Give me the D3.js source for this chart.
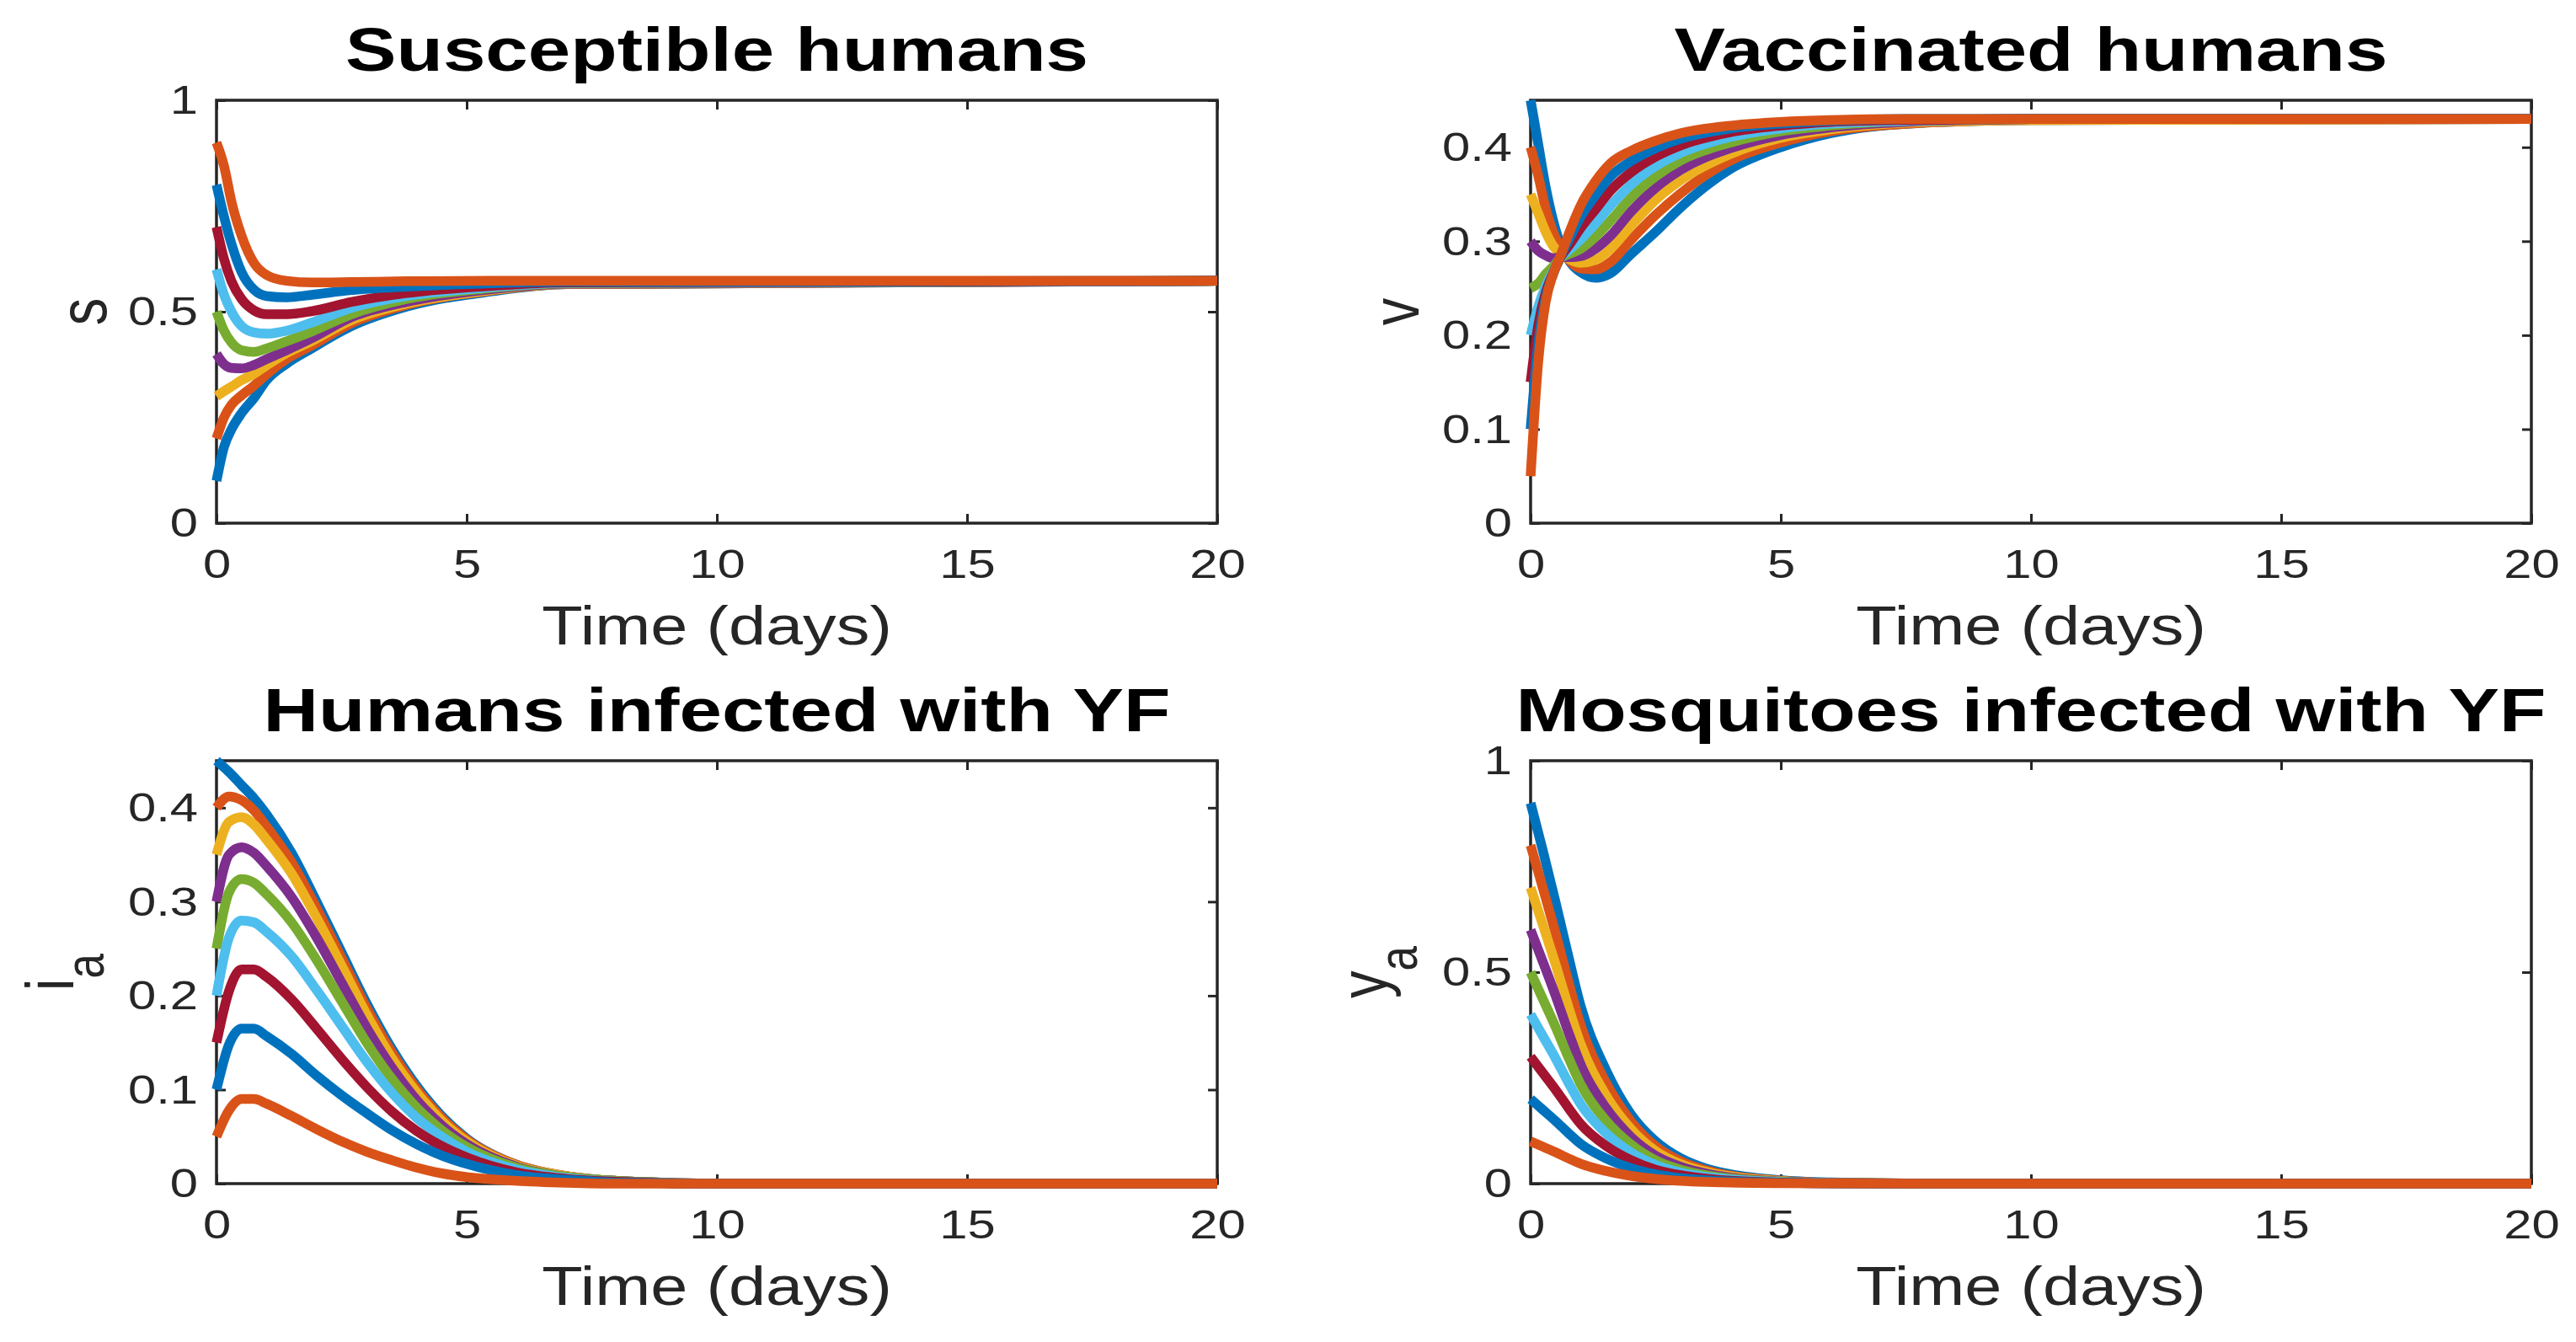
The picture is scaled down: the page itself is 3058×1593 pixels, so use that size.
<!DOCTYPE html>
<html>
<head>
<meta charset="utf-8">
<script src="https://cdn.jsdelivr.net/npm/d3@7"></script>
<style>
body { margin: 0; background: #fff; }
svg { display: block; font-family: "Liberation Sans", Arial, sans-serif; }
</style>
</head>
<body>
<svg id="chart" width="3058" height="1593"></svg>
<script>
// MATLAB default colour order, one colour per run (9 runs)
var lineColors = ["#0072BD", "#D95319", "#EDB120", "#7E2F8E", "#77AC30", "#4DBEEE", "#A2142F", "#0072BD", "#D95319"];

var xTicks = [0, 5, 10, 15, 20];
var yTicksS = [0, 0.5, 1];
var yTicksV = [0, 0.1, 0.2, 0.3, 0.4];
var yTicksI = [0, 0.1, 0.2, 0.3, 0.4];
var yTicksY = [0, 0.5, 1];

// Susceptible humans s(t)
var tS = [0, 0.15, 0.3, 0.5, 0.75, 1, 1.4, 1.9, 2.7, 3.8, 5.5, 7, 20];
var sVals = [
    [0.10, 0.18, 0.222, 0.26, 0.296, 0.338, 0.377, 0.413, 0.466, 0.512, 0.548, 0.565, 0.573],
    [0.20, 0.25, 0.28, 0.302, 0.325, 0.352, 0.388, 0.42, 0.473, 0.516, 0.55, 0.565, 0.573],
    [0.30, 0.312, 0.323, 0.338, 0.353, 0.373, 0.402, 0.43, 0.48, 0.519, 0.551, 0.566, 0.573],
    [0.40, 0.376, 0.367, 0.366, 0.374, 0.388, 0.409, 0.437, 0.487, 0.523, 0.553, 0.566, 0.573],
    [0.50, 0.455, 0.427, 0.409, 0.405, 0.413, 0.43, 0.453, 0.494, 0.53, 0.556, 0.567, 0.573],
    [0.60, 0.54, 0.50, 0.466, 0.451, 0.448, 0.455, 0.474, 0.509, 0.537, 0.558, 0.568, 0.573],
    [0.70, 0.625, 0.572, 0.53, 0.503, 0.494, 0.494, 0.501, 0.523, 0.544, 0.561, 0.569, 0.573],
    [0.80, 0.725, 0.66, 0.594, 0.552, 0.537, 0.534, 0.540, 0.551, 0.559, 0.567, 0.571, 0.573],
    [0.90, 0.845, 0.76, 0.68, 0.615, 0.587, 0.573, 0.569, 0.570, 0.572, 0.573, 0.573, 0.573]
];

// Vaccinated humans v(t)
var tV = [0, 0.15, 0.3, 0.45, 0.6, 0.8, 1.0, 1.3, 1.6, 2.0, 2.5, 3, 4, 5, 6, 7.5, 10, 20];
var vVals = [
    [0.45, 0.404, 0.358, 0.322, 0.296, 0.277, 0.267, 0.261, 0.266, 0.286, 0.31, 0.336, 0.377, 0.40, 0.415, 0.425, 0.429, 0.43],
    [0.40, 0.37, 0.335, 0.31, 0.292, 0.278, 0.271, 0.27, 0.278, 0.301, 0.328, 0.351, 0.386, 0.405, 0.417, 0.425, 0.429, 0.43],
    [0.35, 0.33, 0.31, 0.295, 0.287, 0.28, 0.277, 0.28, 0.292, 0.316, 0.344, 0.365, 0.393, 0.41, 0.419, 0.426, 0.429, 0.43],
    [0.30, 0.29, 0.285, 0.282, 0.283, 0.283, 0.284, 0.292, 0.306, 0.331, 0.357, 0.376, 0.399, 0.413, 0.421, 0.427, 0.43, 0.43],
    [0.25, 0.255, 0.265, 0.273, 0.282, 0.287, 0.292, 0.305, 0.322, 0.346, 0.369, 0.386, 0.405, 0.417, 0.423, 0.428, 0.43, 0.43],
    [0.20, 0.23, 0.252, 0.268, 0.282, 0.292, 0.302, 0.319, 0.338, 0.36, 0.38, 0.394, 0.411, 0.42, 0.425, 0.428, 0.43, 0.43],
    [0.15, 0.21, 0.245, 0.266, 0.283, 0.298, 0.314, 0.334, 0.354, 0.373, 0.39, 0.402, 0.416, 0.423, 0.427, 0.429, 0.43, 0.43],
    [0.10, 0.19, 0.24, 0.265, 0.284, 0.305, 0.326, 0.349, 0.369, 0.385, 0.399, 0.409, 0.42, 0.425, 0.428, 0.43, 0.43, 0.43],
    [0.05, 0.17, 0.235, 0.265, 0.285, 0.313, 0.338, 0.364, 0.383, 0.396, 0.407, 0.415, 0.423, 0.427, 0.429, 0.43, 0.43, 0.43]
];

// Humans infected with YF i_a(t)
var tI = [0, 0.25, 0.5, 0.75, 1, 1.5, 2, 2.5, 3, 3.5, 4, 4.5, 5, 6, 7, 8, 10, 20];
var iVals = [
    [0.45, 0.438, 0.424, 0.41, 0.393, 0.352, 0.30, 0.246, 0.192, 0.144, 0.104, 0.072, 0.048, 0.02, 0.008, 0.003, 0, 0],
    [0.40, 0.412, 0.408, 0.397, 0.38, 0.342, 0.293, 0.24, 0.187, 0.14, 0.101, 0.07, 0.047, 0.02, 0.008, 0.003, 0, 0],
    [0.35, 0.385, 0.39, 0.382, 0.366, 0.33, 0.283, 0.232, 0.18, 0.134, 0.097, 0.067, 0.045, 0.019, 0.008, 0.003, 0, 0],
    [0.30, 0.35, 0.358, 0.352, 0.338, 0.305, 0.262, 0.214, 0.166, 0.124, 0.089, 0.062, 0.042, 0.018, 0.007, 0.003, 0, 0],
    [0.25, 0.31, 0.324, 0.32, 0.308, 0.278, 0.238, 0.194, 0.15, 0.112, 0.081, 0.057, 0.039, 0.017, 0.007, 0.003, 0, 0],
    [0.20, 0.262, 0.28, 0.278, 0.268, 0.242, 0.206, 0.168, 0.13, 0.097, 0.07, 0.05, 0.034, 0.015, 0.006, 0.002, 0, 0],
    [0.15, 0.205, 0.228, 0.228, 0.22, 0.196, 0.165, 0.133, 0.103, 0.077, 0.056, 0.04, 0.028, 0.012, 0.005, 0.002, 0, 0],
    [0.10, 0.148, 0.165, 0.165, 0.157, 0.138, 0.115, 0.094, 0.075, 0.057, 0.042, 0.03, 0.021, 0.009, 0.004, 0.001, 0, 0],
    [0.05, 0.078, 0.09, 0.09, 0.085, 0.072, 0.058, 0.045, 0.034, 0.025, 0.017, 0.011, 0.007, 0.003, 0.001, 0, 0, 0]
];

// Mosquitoes infected with YF y_a(t)
var tY = [0, 0.25, 0.5, 0.75, 1, 1.5, 2, 2.5, 3, 3.5, 4, 5, 6, 8, 20];
var yVals = [
    [0.9, 0.785, 0.665, 0.54, 0.42, 0.27, 0.165, 0.1, 0.06, 0.036, 0.022, 0.008, 0.003, 0, 0],
    [0.8, 0.697, 0.592, 0.48, 0.375, 0.24, 0.148, 0.088, 0.053, 0.032, 0.019, 0.007, 0.002, 0, 0],
    [0.7, 0.61, 0.518, 0.42, 0.33, 0.21, 0.13, 0.077, 0.046, 0.028, 0.017, 0.006, 0.002, 0, 0],
    [0.6, 0.523, 0.444, 0.36, 0.282, 0.18, 0.111, 0.066, 0.04, 0.024, 0.014, 0.005, 0.002, 0, 0],
    [0.5, 0.435, 0.37, 0.3, 0.235, 0.15, 0.093, 0.055, 0.033, 0.02, 0.012, 0.0045, 0.0015, 0, 0],
    [0.4, 0.348, 0.296, 0.24, 0.188, 0.12, 0.074, 0.044, 0.026, 0.016, 0.01, 0.0036, 0.001, 0, 0],
    [0.3, 0.261, 0.222, 0.18, 0.141, 0.09, 0.056, 0.033, 0.02, 0.012, 0.007, 0.0027, 0.001, 0, 0],
    [0.2, 0.174, 0.148, 0.12, 0.094, 0.06, 0.037, 0.022, 0.013, 0.008, 0.005, 0.0018, 0.0006, 0, 0],
    [0.1, 0.087, 0.074, 0.06, 0.047, 0.03, 0.0185, 0.011, 0.0066, 0.004, 0.0024, 0.0009, 0.0003, 0, 0]
];

var axisColor = "#262626";
var plotW = 1188, plotH = 502;
var tickLen = 11;
// the original figure is stretched sideways, so text is too
var textSx = 1.22, titleSx = 1.26;

var panels = [
    {x: 257, y: 119, t: tS, vals: sVals, ymax: 1, yTicks: yTicksS, title: "Susceptible humans", label: "s", sub: "", labelX: 126},
    {x: 1817, y: 119, t: tV, vals: vVals, ymax: 0.45, yTicks: yTicksV, title: "Vaccinated humans", label: "v", sub: "", labelX: 1684},
    {x: 257, y: 903, t: tI, vals: iVals, ymax: 0.45, yTicks: yTicksI, title: "Humans infected with YF", label: "i", sub: "a", labelX: 87},
    {x: 1817, y: 903, t: tY, vals: yVals, ymax: 1, yTicks: yTicksY, title: "Mosquitoes infected with YF", label: "y", sub: "a", labelX: 1646}
];

var svg = d3.select("#chart");

function styleAxis(sel) {
    sel.attr("font-size", 49).attr("font-family", null);
    sel.select(".domain").remove();
    sel.selectAll("line").attr("stroke", axisColor).attr("stroke-width", 3);
    sel.selectAll("text").attr("fill", axisColor);
}

function draw_panel(p) {
    var x = d3.scaleLinear().domain([0, 20]).range([0, plotW]);
    var y = d3.scaleLinear().domain([0, p.ymax]).range([plotH, 0]);
    var g = svg.append("g").attr("transform", "translate(" + p.x + "," + p.y + ")");

    // ticks point inwards on all four sides
    var bottom = g.append("g").attr("transform", "translate(0," + plotH + ")")
        .call(d3.axisBottom(x).tickValues(xTicks).tickSize(-tickLen).tickPadding(30).tickFormat(function(d) { return d; }));
    styleAxis(bottom);
    bottom.selectAll("text").attr("transform", "scale(" + textSx + ",1)");

    var left = g.append("g")
        .call(d3.axisLeft(y).tickValues(p.yTicks).tickSize(-tickLen).tickFormat(function(d) { return String(d); }));
    styleAxis(left);
    left.selectAll("text").attr("x", -22 / textSx).attr("transform", "scale(" + textSx + ",1)");

    var top = g.append("g").call(d3.axisTop(x).tickValues(xTicks).tickSize(-tickLen).tickFormat(""));
    styleAxis(top);
    var right = g.append("g").attr("transform", "translate(" + plotW + ",0)")
        .call(d3.axisRight(y).tickValues(p.yTicks).tickSize(-tickLen).tickFormat(""));
    styleAxis(right);

    g.append("rect").attr("width", plotW).attr("height", plotH)
        .attr("fill", "none").attr("stroke", axisColor).attr("stroke-width", 3.5);

    var line = d3.line()
        .x(function(d) { return x(d[0]); })
        .y(function(d) { return y(d[1]); })
        .curve(d3.curveMonotoneX);

    p.vals.forEach(function(vals, k) {
        var pts = p.t.map(function(tt, i) { return [tt, vals[i]]; });
        g.append("path").datum(pts)
            .attr("d", line)
            .attr("fill", "none")
            .attr("stroke", lineColors[k])
            .attr("stroke-width", 11.5)
            .attr("stroke-linejoin", "round");
    });

    // title
    svg.append("text")
        .attr("transform", "translate(" + (p.x + plotW / 2) + "," + (p.y - 35) + ") scale(" + titleSx + ",1)")
        .attr("text-anchor", "middle")
        .attr("font-size", 72)
        .attr("font-weight", "bold")
        .attr("fill", "#000")
        .text(p.title);

    // x label
    svg.append("text")
        .attr("transform", "translate(" + (p.x + plotW / 2) + "," + (p.y + plotH + 144) + ") scale(" + textSx + ",1)")
        .attr("text-anchor", "middle")
        .attr("font-size", 65)
        .attr("fill", axisColor)
        .text("Time (days)");

    // y label, rotated
    var yl = svg.append("text")
        .attr("transform", "translate(" + p.labelX + "," + (p.y + plotH / 2) + ") scale(" + textSx + ",1) rotate(-90)")
        .attr("text-anchor", "middle")
        .attr("font-size", 65)
        .attr("fill", axisColor);
    yl.append("tspan").text(p.label);
    if (p.sub) {
        yl.append("tspan").attr("font-size", 53).attr("dy", "0.55em").text(p.sub);
    }
}

panels.forEach(draw_panel);
</script>
</body>
</html>
